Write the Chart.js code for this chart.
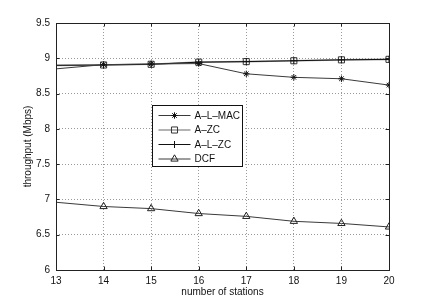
<!DOCTYPE html>
<html>
<head>
<meta charset="utf-8">
<script src="https://cdn.jsdelivr.net/npm/chart.js@4/dist/chart.umd.min.js"></script>
<style>
  html, body { margin: 0; background: #fff; }
  #wrap { width: 429px; height: 305px; }
</style>
</head>
<body>
<div id="wrap"><canvas id="chart" width="429" height="305"></canvas></div>
<script>
// ── Data ─────────────────────────────────────
const stations = [13, 14, 15, 16, 17, 18, 19, 20];
const alMac    = [8.85, 8.91, 8.92, 8.925, 8.78, 8.73, 8.71, 8.62];
const aZc      = [8.90, 8.905, 8.915, 8.945, 8.953, 8.965, 8.978, 8.985];
const alZc     = [8.90, 8.905, 8.915, 8.945, 8.953, 8.965, 8.978, 8.985];
const dcf      = [6.96, 6.90, 6.87, 6.80, 6.76, 6.69, 6.66, 6.61];

const xTicks = [13, 14, 15, 16, 17, 18, 19, 20];
const yTicks = [6, 6.5, 7, 7.5, 8, 8.5, 9, 9.5];

const FONT = "'Liberation Sans', Arial, sans-serif";

const pts = arr => arr.map((v, i) => ({ x: stations[i], y: v }));
// no marker drawn on the left axis edge
const rad = r => ctx => (ctx.dataIndex === 0 ? 0 : r);

const datasets = [
  { label: 'A\u2013L\u2013MAC', data: pts(alMac), borderColor: '#3a3a3a', borderWidth: 1,
    pointStyle: 'star', pointRadius: rad(3.2), pointBorderColor: '#111', pointBorderWidth: 1,
    pointBackgroundColor: '#111', order: 0 },
  { label: 'A\u2013ZC', data: pts(aZc), borderColor: '#9a9a9a', borderWidth: 1.6,
    pointStyle: 'rect', pointRadius: rad(4.3), pointBorderColor: '#333', pointBorderWidth: 1,
    pointBackgroundColor: 'rgba(255,255,255,0)', order: 1 },
  { label: 'A\u2013L\u2013ZC', data: pts(alZc), borderColor: '#111', borderWidth: 1,
    pointStyle: 'cross', pointRadius: rad(3.5), pointBorderColor: '#111', pointBorderWidth: 1,
    pointBackgroundColor: '#111', order: 0 },
  { label: 'DCF', data: pts(dcf), borderColor: '#3a3a3a', borderWidth: 1,
    pointStyle: 'triangle', pointRadius: rad(4.2), pointBorderColor: '#222', pointBorderWidth: 1,
    pointBackgroundColor: 'rgba(255,255,255,0)', order: 0 }
];

// ── Box, inward ticks and legend ─────────────
const matlabFrame = {
  id: 'matlabFrame',
  afterDatasetsDraw(chart) {
    const { ctx, chartArea: a, scales: { x, y } } = chart;
    ctx.save();
    ctx.strokeStyle = '#222';
    ctx.lineWidth = 1;
    ctx.setLineDash([]);
    ctx.strokeRect(Math.round(a.left) + 0.5, Math.round(a.top) + 0.5,
                   Math.round(a.right - a.left), Math.round(a.bottom - a.top));
    const tl = 3.5;
    ctx.beginPath();
    xTicks.forEach(v => {
      const px = Math.round(x.getPixelForValue(v)) + 0.5;
      ctx.moveTo(px, a.bottom); ctx.lineTo(px, a.bottom - tl);
      ctx.moveTo(px, a.top); ctx.lineTo(px, a.top + tl);
    });
    yTicks.forEach(v => {
      const py = Math.round(y.getPixelForValue(v)) + 0.5;
      ctx.moveTo(a.left, py); ctx.lineTo(a.left + tl, py);
      ctx.moveTo(a.right, py); ctx.lineTo(a.right - tl, py);
    });
    ctx.stroke();

    // legend box
    const lx = a.left + 96.5, ly = a.top + 82.5, lw = 90, lh = 61;
    ctx.fillStyle = '#fff';
    ctx.fillRect(lx, ly, lw, lh);
    ctx.strokeStyle = '#111';
    ctx.strokeRect(lx, ly, lw, lh);
    ctx.font = '10px ' + FONT;
    ctx.textBaseline = 'middle';
    chart.data.datasets.forEach((ds, i) => {
      const cy = ly + 10 + i * 14.5;
      ctx.strokeStyle = ds.borderColor;
      ctx.lineWidth = ds.borderWidth;
      ctx.beginPath();
      ctx.moveTo(lx + 6, cy); ctx.lineTo(lx + 38, cy);
      ctx.stroke();
      ctx.strokeStyle = ds.pointBorderColor;
      ctx.fillStyle = ds.pointBackgroundColor;
      ctx.lineWidth = 1;
      Chart.helpers.drawPoint(ctx, {
        pointStyle: ds.pointStyle, rotation: 0,
        radius: ds.pointRadius({ dataIndex: 1 }), borderWidth: 1
      }, lx + 22, cy);
      ctx.fillStyle = '#111';
      ctx.fillText(ds.label, lx + 42, cy + 0.5);
    });
    ctx.restore();
  }
};

// ── Chart ────────────────────────────────────
new Chart(document.getElementById('chart'), {
  type: 'line',
  data: { datasets },
  options: {
    responsive: false,
    animation: false,
    layout: { padding: { left: 22, right: 40, top: 23, bottom: 7 } },
    elements: { line: { tension: 0 } },
    plugins: { legend: { display: false }, tooltip: { enabled: false } },
    scales: {
      x: {
        type: 'linear', min: 13, max: 20,
        afterFit: s => { s.height = 28; },
        afterBuildTicks: s => { s.ticks = xTicks.map(v => ({ value: v })); },
        ticks: { color: '#111', font: { family: FONT, size: 10 }, padding: 5,
                 callback: v => String(v) },
        grid: { color: '#9a9a9a', lineWidth: 1, drawTicks: false },
        border: { display: false, dash: [1, 2] },
        title: { display: true, text: 'number of stations', color: '#111',
                 font: { family: FONT, size: 10 }, padding: { top: 1, bottom: 0 } }
      },
      y: {
        type: 'linear', min: 6, max: 9.5,
        afterFit: s => { s.width = 34; },
        afterBuildTicks: s => { s.ticks = yTicks.map(v => ({ value: v })); },
        ticks: { color: '#111', font: { family: FONT, size: 10 }, padding: 6,
                 callback: v => String(v) },
        grid: { color: '#9a9a9a', lineWidth: 1, drawTicks: false },
        border: { display: false, dash: [1, 2] },
        title: { display: true, text: 'throughput (Mbps)', color: '#111',
                 font: { family: FONT, size: 10 }, padding: { top: 0, bottom: 6 } }
      }
    }
  },
  plugins: [matlabFrame]
});
</script>
</body>
</html>
